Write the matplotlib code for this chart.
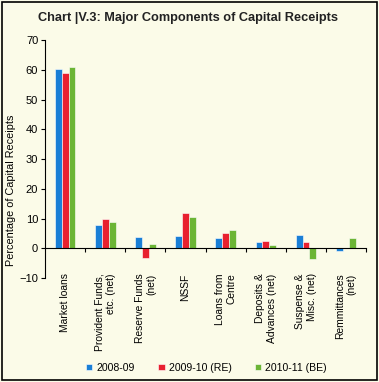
import matplotlib
matplotlib.use("Agg")
from matplotlib import pyplot as plt
from matplotlib.patches import Rectangle
import numpy as np

plt.rcParams["font.family"] = ["Liberation Sans", "DejaVu Sans"]

# chart data (percent of capital receipts)
categories = ["Market loans", "Provident Funds,\netc. (net)", "Reserve Funds\n(net)", "NSSF",
              "Loans from\nCentre", "Deposits &\nAdvances (net)", "Suspense &\nMisc. (net)",
              "Remmittances\n(net)"]
series_names = ["2008-09", "2009-10 (RE)", "2010-11 (BE)"]
v_2008 = [60.2, 7.8, 3.7, 4.1, 3.4, 2.1, 4.4, -1.0]
v_2009 = [59.0, 10.0, -3.2, 12.0, 5.1, 2.4, 2.2, 0.0]
v_2010 = [61.0, 9.0, 1.3, 10.5, 6.1, 1.1, -3.7, 3.4]
colors = ["#1a7fd6", "#e8202f", "#6cb535"]

bg = "#fbfbe8"
fig = plt.figure(figsize=(3.79, 3.82), dpi=100, facecolor=bg)
ax = fig.add_axes([0.119, 0.272, 0.847, 0.623])
ax.set_facecolor(bg)

# frame round the whole chart
fig.patches.append(Rectangle((0.006, 0.006), 0.988, 0.988, transform=fig.transFigure,
                             fill=False, edgecolor="black", linewidth=1.2))

fig.text(0.495, 0.953, "Chart |V.3: Major Components of Capital Receipts",
         ha="center", va="center", fontsize=9.2, fontweight="bold", color="#222222")

x = np.arange(len(categories))
w = 0.17
for i, (vals, name) in enumerate(zip([v_2008, v_2009, v_2010], series_names)):
    ax.bar(x + (i - 1) * w, vals, width=w, color=colors[i], label=name,
           edgecolor="white", linewidth=0.4)

ax.set_xlim(-0.5, len(categories) - 0.5)
ax.set_ylim(-10, 70)
ax.set_yticks(range(-10, 71, 10))
ax.tick_params(axis="y", labelsize=8, length=3, width=0.8, pad=2)
fig.text(0.028, 0.503, "Percentage of Capital Receipts", rotation=90,
         ha="center", va="center", fontsize=7.8)

for s in ["top", "right"]:
    ax.spines[s].set_visible(False)
ax.spines["left"].set_linewidth(0.8)
ax.spines["bottom"].set_position(("data", 0))
ax.spines["bottom"].set_linewidth(0.8)

# tick marks at category boundaries, labels drawn below the axes
ax.set_xticks(np.arange(0.5, len(categories) - 0.5 + 1, 1.0))
ax.set_xticklabels([])
ax.tick_params(axis="x", length=3, width=0.8, direction="out")
for xi, lab in zip(x, categories):
    ax.text(xi, 0.02, lab, transform=ax.get_xaxis_transform(), rotation=90,
            ha="center", va="top", multialignment="right", fontsize=7.4)

leg = fig.legend(loc="center", bbox_to_anchor=(0.545, 0.037), ncol=3, frameon=False,
                 fontsize=7.6, handlelength=0.6, handleheight=0.6, handletextpad=0.4,
                 columnspacing=2.2)

fig.savefig("out.png", dpi=100, facecolor=bg)
